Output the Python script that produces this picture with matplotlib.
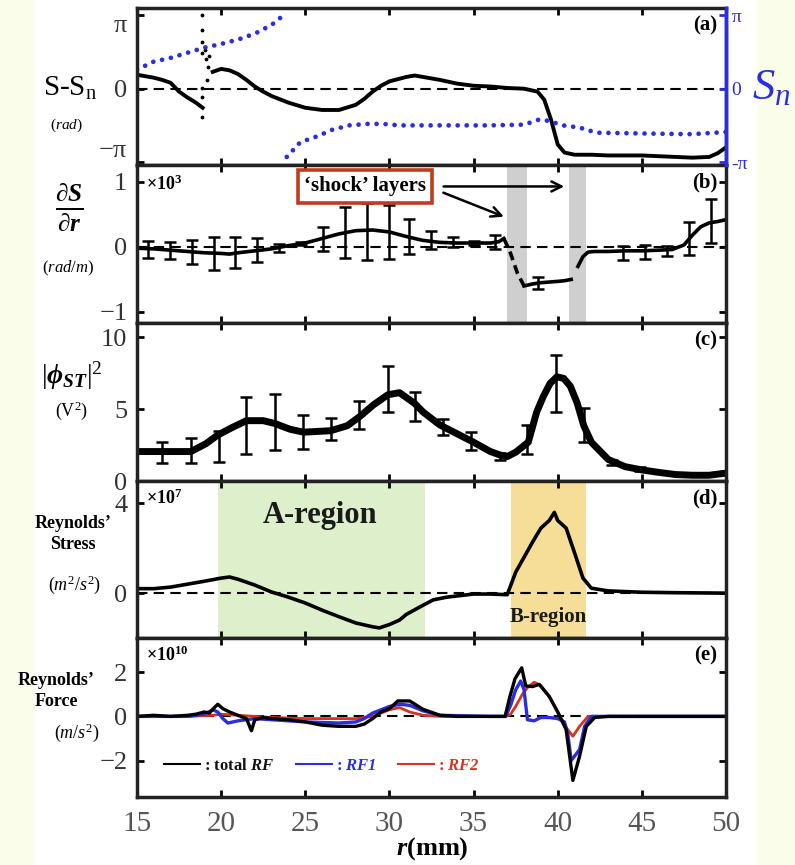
import numpy as np
import matplotlib
matplotlib.use('Agg')
import matplotlib.pyplot as plt
from matplotlib.lines import Line2D
from matplotlib.patches import Rectangle

plt.rcParams['font.family'] = ['Liberation Serif', 'DejaVu Serif']
plt.rcParams['mathtext.fontset'] = 'custom'
plt.rcParams['mathtext.rm'] = 'Liberation Serif'
plt.rcParams['mathtext.it'] = 'Liberation Serif:italic'
plt.rcParams['mathtext.bf'] = 'Liberation Serif:bold'
plt.rcParams['mathtext.bfit'] = 'Liberation Serif:bold:italic'

# ---- (a) phase difference S-Sn (units of pi) ----
sa_r1 = [15, 15.5, 16, 16.5, 17, 17.5, 18, 18.5, 18.9]
sa_v1 = [0.19, 0.17, 0.15, 0.12, 0.08, -0.04, -0.12, -0.19, -0.26]
sa_r2 = [19.5, 20, 20.5, 21, 21.5, 22, 22.5, 23, 24, 25, 26, 27, 28, 28.5, 29, 29.5, 30,
         31, 31.5, 32, 33, 34, 35, 36, 37, 38, 38.8, 39.2, 39.6, 40, 40.4,
         41, 42, 43, 44, 45, 46, 47, 48, 49, 49.5, 50]
sa_v2 = [0.23, 0.27, 0.25, 0.2, 0.12, 0.03, -0.04, -0.1, -0.19, -0.26, -0.29, -0.29, -0.22,
         -0.14, -0.04, 0.04, 0.1, 0.16, 0.18, 0.16, 0.12, 0.07, 0.04, 0.03, 0.01, 0.0,
         -0.04, -0.15, -0.42, -0.76, -0.87, -0.9, -0.9, -0.91, -0.91, -0.91, -0.92,
         -0.93, -0.94, -0.93, -0.88, -0.8]
sa_stray_r = [18.86, 18.86, 18.86, 18.86, 18.86, 18.86, 18.86, 19.05, 19.1, 19.15, 19.2, 19.3]
sa_stray_v = [1.0, 0.8, 0.63, 0.49, 0.01, -0.11, -0.39, 0.53, 0.4, 0.12, 0.3, 0.45]
# Sn (blue dots, units of pi)
sn_r1 = [15, 16, 17, 18, 19, 20, 21, 22, 23, 23.7]
sn_v1 = [0.26, 0.37, 0.42, 0.49, 0.56, 0.61, 0.67, 0.75, 0.87, 1.0]
sn_r2 = [23.9, 24.7, 25.7, 26.6, 27.6, 28.7, 29.6, 30.6, 32, 34, 36, 38, 38.9, 39.5,
         40.3, 41.3, 42.3, 45, 48, 50]
sn_v2 = [-0.93, -0.73, -0.65, -0.56, -0.5, -0.48, -0.48, -0.5, -0.5, -0.5, -0.5, -0.49,
         -0.42, -0.44, -0.5, -0.53, -0.6, -0.61, -0.62, -0.59]

# ---- (b) dS/dr (x10^3 rad/m) ----
b_r1 = [15, 16, 17, 18, 19, 20, 20.5, 21, 22, 23, 24, 25, 26, 27, 28, 29, 30, 31, 32, 33,
        34, 35, 36, 36.5, 36.8]
b_v1 = [-0.02, -0.03, -0.05, -0.07, -0.09, -0.1, -0.11, -0.09, -0.06, -0.03, 0.02, 0.06,
        0.13, 0.2, 0.25, 0.26, 0.23, 0.16, 0.1, 0.07, 0.06, 0.06, 0.06, 0.08, 0.13]
b_r2 = [36.8, 37.2, 37.6, 38.0]
b_v2 = [0.13, -0.1, -0.4, -0.6]
b_r3 = [38.0, 38.5, 39, 39.5, 40, 40.4, 40.8]
b_v3 = [-0.6, -0.57, -0.55, -0.54, -0.53, -0.52, -0.5]
b_r4 = [41.2, 41.5, 41.8, 42.2, 43, 44, 45, 46, 46.8, 47.5, 48, 48.5, 49, 49.5, 50]
b_v4 = [-0.3, -0.15, -0.08, -0.07, -0.07, -0.06, -0.06, -0.05, -0.04, 0.03, 0.18, 0.31,
        0.37, 0.39, 0.42]
eb_r = [15.65, 16.95, 18.25, 19.55, 20.85, 22.15, 23.45, 24.75, 26.05, 27.35, 28.65, 29.95,
        31.15, 32.45, 33.75, 35.0, 36.3, 38.8, 43.9, 45.2, 46.5, 47.8, 49.1]
eb_v = [-0.04, -0.05, -0.08, -0.1, -0.09, -0.05, -0.02, 0.05, 0.12, 0.22, 0.24, 0.23, 0.16,
        0.11, 0.08, 0.06, 0.08, -0.55, -0.09, -0.08, -0.06, 0.13, 0.4]
eb_e = [0.13, 0.13, 0.19, 0.25, 0.24, 0.18, 0.06, 0.02, 0.19, 0.39, 0.44, 0.42, 0.27, 0.14,
        0.08, 0.03, 0.11, 0.09, 0.11, 0.11, 0.08, 0.25, 0.34]
shock_layers = [(36.98, 38.17), (40.67, 41.68)]

# ---- (c) |phi_ST|^2 (V^2) ----
c_r = [15, 16.5, 18.2, 19.1, 19.8, 20.7, 21.5, 22.5, 23.2, 24.1, 24.9, 26.5, 27.5, 28.25,
       29.05, 29.9, 30.6, 31.5, 32, 33, 34, 35, 36, 36.6, 37, 37.5, 38.25, 38.75, 39.15,
       39.55, 39.95, 40.35, 40.75, 41.15, 41.55, 42, 43, 44, 45, 46, 47, 48, 49, 50]
c_v = [2.05, 2.05, 2.05, 2.6, 3.2, 3.75, 4.2, 4.2, 4.0, 3.6, 3.4, 3.5, 3.85, 4.5, 5.3, 6.0,
       6.15, 5.4, 4.8, 3.9, 3.3, 2.7, 2.05, 1.8, 1.7, 2.0, 2.7, 4.8, 5.9, 6.8, 7.25, 7.15,
       6.6, 5.45, 3.85, 2.7, 1.5, 1.0, 0.77, 0.6, 0.45, 0.4, 0.4, 0.55]
ec_r = [16.5, 18.2, 19.85, 21.5, 23.2, 24.85, 26.5, 28.2, 29.9, 31.5, 33.2, 34.85, 36.55,
        38.2, 39.9, 41.55, 43.2, 44.9]
ec_v = [1.98, 2.1, 2.4, 3.85, 4.1, 3.4, 3.6, 4.6, 6.4, 5.2, 3.75, 2.8, 1.7, 2.9, 6.8, 3.9,
        1.3, 0.85]
ec_e = [0.74, 0.86, 1.08, 1.97, 1.94, 1.19, 0.78, 0.97, 1.6, 1.03, 0.57, 0.63, 0.23, 1.0,
        2.0, 1.2, 0.17, 0.15]

# ---- (d) Reynolds stress (x10^7 m^2/s^2) ----
d_r = [15, 16, 17, 18, 19, 20, 20.5, 21, 22, 23, 24, 25, 26, 27, 28, 29, 29.4, 30, 30.6, 31,
       31.8, 32.6, 33.4, 35, 36, 37, 37.5, 38, 38.5, 39, 39.5, 39.8, 40, 40.5, 41, 41.5, 42,
       43, 45, 47, 50]
d_v = [0.2, 0.2, 0.27, 0.4, 0.53, 0.67, 0.72, 0.62, 0.36, 0.05, -0.18, -0.44, -0.76, -1.05,
       -1.33, -1.5, -1.55, -1.4, -1.2, -0.95, -0.62, -0.3, -0.18, -0.04, -0.04, -0.07, 0.93,
       1.6, 2.27, 2.9, 3.24, 3.6, 3.24, 2.9, 1.8, 0.67, 0.22, 0.1, 0.04, 0.02, 0.0]
region_a = (19.8, 32.1)
region_b = (37.2, 41.7)

# ---- (e) Reynolds force (x10^10 m/s^2) ----
e_r = [15, 16, 17, 18, 18.5, 19, 19.3, 19.6, 19.8, 20.1, 20.5, 21, 21.5, 21.8, 22, 22.5, 23,
       24, 25, 26, 27, 28, 28.5, 29, 29.5, 30, 30.5, 31.2, 32, 33, 34, 36, 36.87, 37.16,
       37.46, 37.86, 38.1, 38.5, 38.9, 39.5, 40, 40.5, 40.9, 41.3, 41.7, 42.2, 43, 45, 48, 50]
e_tot = [0, 0.05, 0, 0.05, 0.1, 0.2, 0.15, 0.4, 0.55, 0.35, 0.2, 0.05, -0.1, -0.65, -0.15,
         -0.05, -0.1, -0.15, -0.25, -0.4, -0.45, -0.45, -0.35, -0.1, 0.2, 0.35, 0.7, 0.7,
         0.32, 0.05, 0.0, 0.0, 0.0, 0.9, 1.7, 2.2, 1.38, 1.35, 1.45, 0.9, 0.2, -0.6, -2.9,
         -1.8, -0.45, -0.05, 0.0, 0.0, 0.0, 0.0]
e_rr = [15, 18, 19.5, 20, 21, 22, 23, 25, 27, 28, 29, 29.5, 30, 30.6, 31.2, 32, 33, 36, 36.9,
        37.2, 37.5, 37.9, 38.2, 38.6, 39, 39.5, 40, 40.5, 40.9, 41.3, 41.8, 42.5, 45, 50]
e_rf2 = [0, 0, 0.05, 0.1, 0.05, 0, -0.05, -0.1, -0.1, -0.1, 0, 0.15, 0.3, 0.4, 0.2, 0.05, 0,
         0, 0, 0.1, 0.45, 1.0, 1.3, 1.55, 1.4, 0.9, 0.2, -0.5, -0.9, -0.45, 0, 0, 0, 0]
e_rb = [15, 18, 19, 19.5, 19.8, 20.1, 20.4, 21, 22, 23, 25, 27, 28, 28.5, 29, 29.5, 30, 30.6,
        31.2, 32, 33, 36, 36.9, 37.2, 37.5, 37.8, 38.0, 38.2, 38.6, 39, 39.5, 40, 40.4, 40.6,
        40.8, 41.1, 41.3, 41.6, 42, 42.5, 45, 50]
e_rf1 = [0, 0, 0.1, 0.3, 0.2, -0.1, -0.3, -0.2, -0.1, -0.15, -0.25, -0.3, -0.25, -0.1, 0.15,
         0.3, 0.45, 0.55, 0.5, 0.25, 0.05, 0, 0, 0.5, 1.2, 1.6, 1.2, -0.15, -0.2, -0.05, -0.05,
         -0.1, -0.25, -0.8, -2.0, -1.7, -1.5, -0.45, 0, 0, 0, 0]

x_ticks = [15, 20, 25, 30, 35, 40, 45, 50]

W, H = 795, 865
fig = plt.figure(figsize=(W / 100, H / 100), dpi=100)
fig.patch.set_facecolor('#fafde9')
fig.add_artist(Rectangle((35 / W, 0), (757 - 35) / W, 1, transform=fig.transFigure,
                         facecolor='white', edgecolor='none', zorder=0))


def fx(px):
    return px / W


def fy(py):
    return 1 - py / H


tops = [8, 165, 323, 481, 638]
bots = [165, 323, 481, 638, 797]
axes = []
for t, b in zip(tops, bots):
    ax = fig.add_axes([fx(137), fy(b), fx(726) - fx(137), (b - t) / H],
                      sharex=axes[0] if axes else None)
    axes.append(ax)
ax_a, ax_b, ax_c, ax_d, ax_e = axes

for ax in axes:
    for s in ax.spines.values():
        s.set_linewidth(2.5)
        s.set_color('#222222')
    ax.tick_params(direction='in', length=5, width=2, top=True, right=True,
                   labelsize=19, labelcolor='#333333', pad=7)
    ax.set_xlim(15, 50)
    ax.set_xticks(x_ticks)
    if ax is not ax_e:
        ax.tick_params(labelbottom=False)
    ax.set_zorder(2)
ax_e.tick_params(axis='x', labelsize=21, labelcolor='#555555', pad=10)

dash = (0, (5, 3))
blue = '#2a2ee0'
red = '#d8321e'

# (a)
pi = np.pi
ax_a.set_ylim(-1.04 * pi, 1.1 * pi)
ax_a.set_yticks([-pi, 0, pi])
ax_a.set_yticklabels(['\u2212\u03c0', '0', '\u03c0'])
labs = ax_a.get_yticklabels()
labs[0].set_va('bottom')
labs[2].set_va('top')
ax_a.axhline(0, color='k', ls=dash, lw=1.5)
ax_a.plot(sa_r1, np.array(sa_v1) * pi, color='k', lw=2.8)
ax_a.plot(sa_r2, np.array(sa_v2) * pi, color='k', lw=2.8)
ax_a.scatter(sa_stray_r, np.array(sa_stray_v) * pi, s=3, color='k')
for rr, vv in [(sn_r1, sn_v1), (sn_r2, sn_v2)]:
    ax_a.plot(rr, np.array(vv) * pi, color=blue, lw=3.4, ls=(0, (0.01, 1.9)),
              dash_capstyle='round')
ax_a.tick_params(right=False)
ax_a2 = ax_a.twinx()
ax_a2.set_ylim(ax_a.get_ylim())
for k, s in ax_a2.spines.items():
    s.set_visible(k == 'right')
ax_a2.spines['right'].set_color(blue)
ax_a2.spines['right'].set_linewidth(2.5)
ax_a2.set_yticks([-pi, 0, pi])
ax_a2.set_yticklabels(['-\u03c0', '0', '\u03c0'])
ax_a2.tick_params(direction='in', length=5, width=2, colors=blue, labelsize=14, pad=4)
ax_a.text(0.985, 0.955, '(a)', transform=ax_a.transAxes, ha='right', va='top',
          fontsize=15, fontweight='bold', zorder=5)

# (b)
ax_b.set_ylim(-1.17, 1.26)
ax_b.set_yticks([-1, 0, 1])
ax_b.set_yticklabels(['\u22121', '0', '1'])
for lo, hi in shock_layers:
    ax_b.axvspan(lo, hi, color='#cfcfcf', lw=0, zorder=0)
ax_b.axhline(0, color='k', ls=dash, lw=1.5)
ax_b.plot(b_r1, b_v1, color='k', lw=2.6)
ax_b.plot(b_r2, b_v2, color='k', lw=2.6, ls=(0, (2.5, 1.5)))
ax_b.plot(b_r3, b_v3, color='k', lw=2.6)
ax_b.plot(b_r4, b_v4, color='k', lw=2.6)
ax_b.errorbar(eb_r, eb_v, yerr=eb_e, fmt='none', ecolor='k', elinewidth=1.8, capsize=4,
              capthick=1.8)
ax_b.text(0.015, 0.94, r'$\mathbf{\times 10^{3}}$', transform=ax_b.transAxes,
          ha='left', va='top', fontsize=13)
ax_b.text(28.55, 0.93, '\u2018shock\u2019 layers', ha='center', va='center', fontsize=15,
          fontweight='bold', zorder=6,
          bbox=dict(boxstyle='square,pad=0.3', facecolor='white', edgecolor='#c23b1f',
                    lw=2.6))
ax_b.annotate('', xy=(40.55, 0.93), xytext=(33.05, 0.93),
              arrowprops=dict(arrowstyle='->', lw=1.8, mutation_scale=18, color='k'))
ax_b.annotate('', xy=(36.95, 0.45), xytext=(33.05, 0.85),
              arrowprops=dict(arrowstyle='->', lw=1.8, mutation_scale=18, color='k'))
ax_b.text(0.985, 0.95, '(b)', transform=ax_b.transAxes, ha='right', va='top',
          fontsize=15, fontweight='bold')

# (c)
ax_c.set_ylim(0, 11)
ax_c.set_yticks([0, 5, 10])
ax_c.plot(c_r, c_v, color='k', lw=5, solid_capstyle='round')
ax_c.errorbar(ec_r, ec_v, yerr=ec_e, fmt='none', ecolor='k', elinewidth=1.8, capsize=4,
              capthick=1.8)
ax_c.text(0.985, 0.95, '(c)', transform=ax_c.transAxes, ha='right', va='top',
          fontsize=15, fontweight='bold')

# (d)
ax_d.set_ylim(-2.0, 5.0)
ax_d.set_yticks([0, 4])
ax_d.axvspan(*region_a, color='#ddf0cb', lw=0, zorder=0)
ax_d.axvspan(*region_b, color='#f6dd98', lw=0, zorder=0)
ax_d.axhline(0, color='k', ls=dash, lw=1.5)
ax_d.plot(d_r, d_v, color='k', lw=2.6)
ax_d.text(25.9, 3.45, 'A-region', ha='center', va='center', fontsize=22,
          fontweight='bold', color='#1a1a1a')
ax_d.text(39.45, -1.07, 'B-region', ha='center', va='center', fontsize=15,
          fontweight='bold', color='#1a1a1a')
ax_d.text(0.015, 0.95, r'$\mathbf{\times 10^{7}}$', transform=ax_d.transAxes,
          ha='left', va='top', fontsize=13)
ax_d.text(0.985, 0.95, '(d)', transform=ax_d.transAxes, ha='right', va='top',
          fontsize=15, fontweight='bold')

# (e)
ax_e.set_ylim(-3.65, 3.55)
ax_e.set_yticks([-2, 0, 2])
ax_e.set_yticklabels(['\u22122', '0', '2'])
ax_e.axhline(0, color='k', ls=dash, lw=1.5)
ax_e.plot(e_rr, e_rf2, color=red, lw=2.0)
ax_e.plot(e_rb, e_rf1, color=blue, lw=2.4)
ax_e.plot(e_r, e_tot, color='k', lw=2.4)
ax_e.text(0.015, 0.95, r'$\mathbf{\times 10^{10}}$', transform=ax_e.transAxes,
          ha='left', va='top', fontsize=13)
ax_e.text(0.985, 0.95, '(e)', transform=ax_e.transAxes, ha='right', va='top',
          fontsize=15, fontweight='bold')
handles = [Line2D([], [], color='k', lw=1.5), Line2D([], [], color=blue, lw=1.5),
           Line2D([], [], color=red, lw=1.5)]
labels = [r': total $\mathbfit{RF}$', r': $\mathbfit{RF1}$', r': $\mathbfit{RF2}$']
leg = ax_e.legend(handles, labels, loc='lower left', bbox_to_anchor=(0.02, 0.05), ncol=3,
                  frameon=False, handlelength=2.2, handletextpad=0.2, columnspacing=1.3,
                  prop={'weight': 'bold', 'size': 12})
for txt, col in zip(leg.get_texts(), ['#111111', blue, red]):
    txt.set_color(col)

# axis labels
fig.text(fx(432), fy(849), r'$\mathbfit{r}$(mm)', ha='center', va='center', fontsize=19,
         fontweight='bold')
fig.text(fx(70), fy(88), r'S-S$_\mathrm{n}$', ha='center', va='center', fontsize=21)
fig.text(fx(66), fy(125), r'($\mathit{rad}$)', ha='center', va='center', fontsize=11)
fig.text(fx(69), fy(207), r'$\frac{\mathbfit{\partial S}}{\mathbfit{\partial r}}$',
         ha='center', va='center', fontsize=26)
fig.text(fx(68), fy(268), r'($\mathit{rad/m}$)', ha='center', va='center', fontsize=12)
fig.text(fx(72), fy(376), r'$|\mathbfit{\phi}_{\mathbfit{ST}}|^{2}$', ha='center',
         va='center', fontsize=20)
fig.text(fx(72), fy(411), r'(V$^{2}$)', ha='center', va='center', fontsize=13)
fig.text(fx(73), fy(534), 'Reynolds\u2019\nStress', ha='center', va='center', fontsize=13,
         fontweight='bold', linespacing=1.25)
fig.text(fx(75), fy(585), r'($m^{2}/s^{2}$)', ha='center', va='center', fontsize=13)
fig.text(fx(56), fy(691), 'Reynolds\u2019\nForce', ha='center', va='center', fontsize=13,
         fontweight='bold', linespacing=1.25)
fig.text(fx(77), fy(733), r'($m/s^{2}$)', ha='center', va='center', fontsize=13)
fig.text(fx(771), fy(88), r'$S_n$', ha='center', va='center', fontsize=32, color=blue)

plt.savefig('out.png', dpi=100, facecolor=fig.get_facecolor())
